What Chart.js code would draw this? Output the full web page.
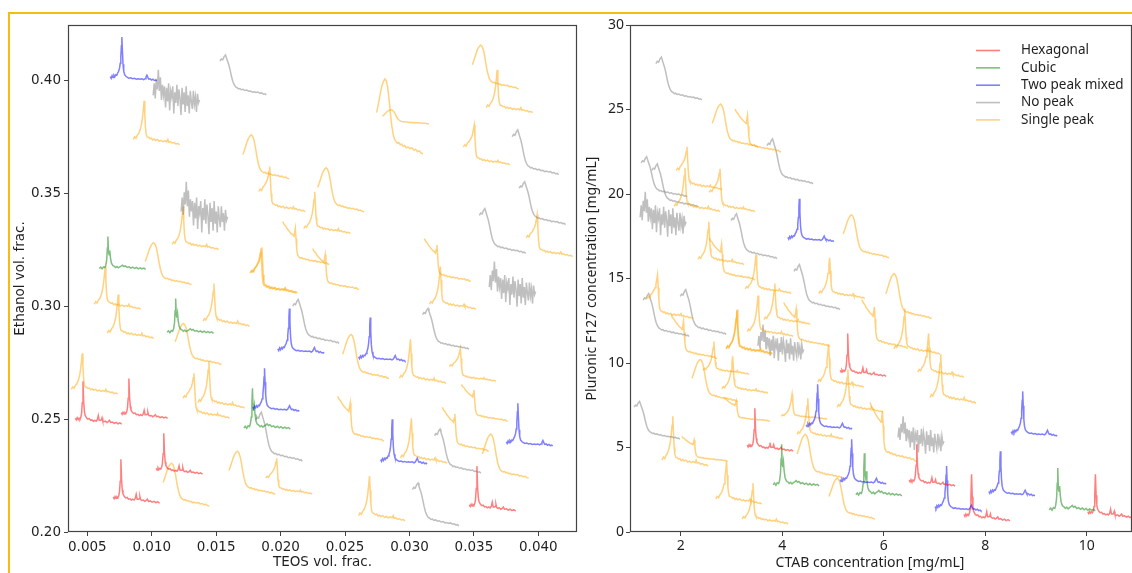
<!DOCTYPE html>
<html>
<head>
<meta charset="utf-8">
<script src="https://cdn.jsdelivr.net/npm/chart.js@4.4.1/dist/chart.umd.min.js"></script>
<style>
  html, body { margin: 0; padding: 0; background: #fff; width: 1132px; height: 573px; overflow: hidden; }
  #frame { position: absolute; left: 8px; top: 12px; width: 1200px; height: 700px;
           border-top: 2px solid #f8bb10; border-left: 2px solid #f8bb10; }
  #teosWrap { position: absolute; left: 0; top: 0; width: 590px; height: 573px; }
  #ctabWrap { position: absolute; left: 578px; top: 0; width: 554px; height: 573px; }
</style>
</head>
<body>
<div id="frame"></div>
<div id="teosWrap"><canvas id="teosChart" width="590" height="573"></canvas></div>
<div id="ctabWrap"><canvas id="ctabChart" width="554" height="573"></canvas></div>
<script>
// ---- classes ----
const classNames = ['Hexagonal', 'Cubic', 'Two peak mixed', 'No peak', 'Single peak'];
const classColors = ['rgba(255,0,0,0.5)', 'rgba(0,128,0,0.5)', 'rgba(0,0,255,0.5)',
                     'rgba(128,128,128,0.5)', 'rgba(255,165,0,0.5)'];
const shapeClass = { hex: 0, cub: 1, two: 2, dec: 3, noi: 3, shp: 4, shpH: 4, brd: 4, sdec: 4 };

// ---- tick labels ----
const teosTicks = [0.005, 0.010, 0.015, 0.020, 0.025, 0.030, 0.035, 0.040];
const ethanolTicks = [0.20, 0.25, 0.30, 0.35, 0.40];
const ctabTicks = [2, 4, 6, 8, 10];
const f127Ticks = [0, 5, 10, 15, 20, 25, 30];

// ---- panel 1: TEOS / ethanol samples (start of pattern, baseline level, pattern maximum) ----
const teosFrac = [
  0.00678, 0.01011, 0.01529, 0.00856, 0.01707, 0.01831, 0.02180, 0.02288, 0.01228, 0.01158,
  0.00593, 0.00949, 0.01762, 0.01770, 0.00554, 0.00655, 0.01119, 0.01398, 0.01978, 0.02094,
  0.01181, 0.01243, 0.01359, 0.00376, 0.00407, 0.00763, 0.01785, 0.01715, 0.01808, 0.01034,
  0.01088, 0.00701, 0.01599, 0.01885, 0.02745, 0.02791, 0.03488, 0.03596, 0.03418, 0.03797,
  0.03851, 0.03906, 0.03542, 0.03619, 0.03116, 0.03155, 0.02249, 0.03101, 0.02605, 0.02481,
  0.02923, 0.03310, 0.03403, 0.03751, 0.02443, 0.02776, 0.02930, 0.03194, 0.03255, 0.03565,
  0.03464, 0.02605, 0.03023, 0.02017];
const ethanolBase = [
  0.4000, 0.3916, 0.3938, 0.3717, 0.3566, 0.3420, 0.3323, 0.3420, 0.3398, 0.3252,
  0.3164, 0.3097, 0.3058, 0.3060, 0.2987, 0.2858, 0.2881, 0.2912, 0.2792, 0.2836,
  0.2743, 0.2504, 0.2549, 0.2611, 0.2478, 0.2504, 0.2535, 0.2456, 0.2314, 0.2257,
  0.2115, 0.2128, 0.2168, 0.2168, 0.3677, 0.3810, 0.3965, 0.3859, 0.3628, 0.3584,
  0.3363, 0.3221, 0.3235, 0.3066, 0.3111, 0.2987, 0.3075, 0.2810, 0.2757, 0.2681,
  0.2659, 0.2668, 0.2491, 0.2381, 0.2403, 0.2301, 0.2305, 0.2261, 0.2358, 0.2239,
  0.2093, 0.2049, 0.2027, 0.3186];
const ethanolTop = [
  0.4195, 0.4049, 0.4115, 0.3912, 0.3761, 0.3620, 0.3509, 0.3615, 0.3553, 0.3443,
  0.3310, 0.3283, 0.3257, 0.3262, 0.3177, 0.3053, 0.3035, 0.3102, 0.2991, 0.3031,
  0.2925, 0.2704, 0.2757, 0.2792, 0.2668, 0.2681, 0.2726, 0.2637, 0.2531, 0.2438,
  0.2305, 0.2323, 0.2358, 0.2327, 0.4009, 0.3872, 0.4159, 0.4049, 0.3805, 0.3783,
  0.3553, 0.3407, 0.3434, 0.3199, 0.3301, 0.3177, 0.3257, 0.2991, 0.2951, 0.2876,
  0.2854, 0.2814, 0.2655, 0.2571, 0.2602, 0.2500, 0.2504, 0.2456, 0.2553, 0.2434,
  0.2292, 0.2248, 0.2217, 0.3376];
const teosShape = [
  'two', 'noi', 'dec', 'shp', 'brd', 'shpH', 'shp', 'brd', 'noi', 'shp',
  'cub', 'brd', 'shpH', 'shpH', 'shp', 'shp', 'cub', 'shp', 'two', 'dec',
  'brd', 'shpH', 'shp', 'shp', 'hex', 'hex', 'two', 'cub', 'dec', 'hex',
  'brd', 'hex', 'brd', 'shpH', 'brd', 'brd', 'brd', 'shp', 'shpH', 'dec',
  'dec', 'shpH', 'dec', 'noi', 'sdec', 'shp', 'sdec', 'dec', 'two', 'brd',
  'shp', 'shpH', 'sdec', 'two', 'sdec', 'two', 'shp', 'dec', 'sdec', 'brd',
  'hex', 'shp', 'dec', 'sdec'];

// ---- panel 2: CTAB / Pluronic F127 samples ----
const ctabConc = [
  1.51, 2.62, 3.07, 3.70, 1.91, 1.87, 2.56, 1.22, 1.43, 1.20,
  4.11, 5.20, 2.99, 2.34, 2.56, 3.27, 4.23, 4.72, 6.04, 6.20,
  5.57, 6.67, 6.91, 5.14, 5.08, 4.70, 4.03, 3.31, 3.64, 2.89,
  2.90, 3.52, 1.33, 1.26, 1.99, 1.81, 2.22, 2.44, 2.81, 2.85,
  3.31, 4.47, 3.98, 4.29, 4.29, 1.08, 1.63, 2.02, 2.69, 3.21,
  3.82, 5.14, 5.45, 4.92, 6.50, 7.01, 7.58, 8.07, 8.51, 9.26,
  10.02, 6.28, 5.73];
const f127Base = [
  25.56, 22.79, 22.49, 20.60, 20.25, 18.95, 18.95, 19.83, 19.24, 18.36,
  17.18, 16.23, 16.17, 15.82, 14.93, 14.11, 13.16, 13.81, 12.63, 10.51,
  10.86, 9.15, 7.61, 9.21, 7.08, 8.56, 10.98, 11.57, 12.28, 10.51,
  10.55, 10.80, 12.63, 11.57, 11.69, 10.27, 7.73, 9.33, 8.21, 6.55,
  4.78, 6.08, 6.67, 5.49, 3.19, 5.49, 3.90, 4.19, 1.65, 0.47,
  2.72, 2.83, 2.13, 0.77, 2.72, 1.24, 0.65, 2.13, 5.67, 1.24,
  0.83, 5.37, 4.19];
const f127Top = [
  28.10, 25.32, 25.03, 23.26, 22.79, 21.55, 21.49, 22.20, 21.78, 20.13,
  19.72, 18.77, 18.83, 18.36, 17.41, 16.41, 15.82, 16.23, 15.29, 13.22,
  13.75, 11.75, 10.51, 11.75, 9.62, 11.10, 13.58, 13.99, 14.70, 13.10,
  13.16, 12.28, 15.23, 14.11, 14.34, 12.87, 10.21, 11.27, 10.39, 7.97,
  7.32, 8.74, 8.15, 7.91, 5.78, 7.73, 6.85, 5.67, 4.19, 2.89,
  5.19, 5.49, 4.66, 3.19, 5.19, 3.90, 3.42, 4.78, 8.32, 3.78,
  3.42, 6.85, 7.67];
const ctabShape = [
  'dec', 'brd', 'sdec', 'dec', 'shpH', 'shp', 'shpH', 'dec', 'dec', 'noi',
  'two', 'brd', 'dec', 'shp', 'sdec', 'shp', 'dec', 'shp', 'brd', 'shp',
  'sdec', 'shp', 'shp', 'hex', 'shp', 'shp', 'sdec', 'shp', 'shp', 'shp',
  'shp', 'noi', 'shpH', 'dec', 'dec', 'sdec', 'brd', 'shp', 'shp', 'sdec',
  'hex', 'two', 'shp', 'shp', 'brd', 'dec', 'shp', 'sdec', 'shp', 'shp',
  'cub', 'two', 'cub', 'brd', 'hex', 'two', 'hex', 'two', 'two', 'cub',
  'hex', 'noi', 'sdec'];

// ---- scattering-pattern outlines: [position along pattern 0..1, level 0 (baseline) .. 1 (maximum)] ----
const hexProfile = [[0,.14],[.02,.1],[.04,.15],[.06,.11],[.08,.14],[.1,.12],[.12,.17],[.135,.26],[.15,.5],
  [.165,1],[.18,.52],[.195,.3],[.21,.21],[.24,.15],[.27,.12],[.3,.13],[.33,.09],[.36,.1],[.39,.07],[.42,.09],
  [.45,.07],[.475,.11],[.495,.2],[.515,.09],[.54,.09],[.56,.1],[.575,.15],[.59,.08],[.62,.06],[.65,.07],[.68,.04],
  [.71,.06],[.735,.09],[.76,.04],[.8,.05],[.84,.02],[.88,.04],[.92,.01],[.96,.03],[1,0]];
const cubProfile = [[0,.03],[.03,.07],[.06,.02],[.09,.08],[.12,.06],[.14,.13],[.16,.3],[.173,.65],[.185,1],
  [.197,.55],[.21,.45],[.225,.58],[.24,.36],[.26,.2],[.29,.12],[.32,.1],[.35,.06],[.38,.09],[.41,.05],[.44,.08],
  [.47,.1],[.5,.13],[.53,.09],[.56,.11],[.6,.06],[.64,.08],[.68,.04],[.72,.07],[.76,.03],[.8,.06],[.84,.02],
  [.88,.05],[.92,.02],[.96,.04],[1,0]];
const twoProfile = [[0,.1],[.02,.06],[.04,.12],[.06,.08],[.08,.13],[.1,.1],[.12,.14],[.14,.13],[.16,.18],
  [.18,.22],[.2,.29],[.215,.4],[.228,.56],[.24,.8],[.25,1],[.262,.68],[.275,.38],[.29,.22],[.31,.14],[.34,.1],
  [.37,.08],[.4,.06],[.44,.07],[.48,.05],[.52,.06],[.56,.04],[.6,.05],[.64,.04],[.68,.05],[.72,.03],[.75,.05],
  [.77,.09],[.79,.13],[.81,.08],[.83,.04],[.86,.05],[.89,.02],[.92,.04],[.95,.01],[.98,.02],[1,0]];
const shpProfile = [[0,.12],[.03,.18],[.06,.15],[.09,.22],[.12,.26],[.15,.34],[.18,.47],[.2,.62],[.22,.82],
  [.235,1],[.25,.68],[.265,.38],[.28,.24],[.3,.18],[.33,.17],[.36,.14],[.39,.15],[.42,.11],[.45,.13],[.48,.1],
  [.52,.12],[.56,.08],[.6,.1],[.64,.07],[.68,.09],[.72,.07],[.745,.12],[.765,.06],[.8,.07],[.84,.04],[.88,.05],
  [.92,.02],[.96,.03],[1,0]];
const shpHighProfile = [[0,.45],[.03,.5],[.06,.47],[.09,.55],[.12,.58],[.15,.64],[.18,.7],[.2,.78],[.22,.9],
  [.235,1],[.25,.7],[.265,.4],[.28,.24],[.3,.18],[.33,.17],[.36,.14],[.39,.15],[.42,.11],[.45,.13],[.48,.1],
  [.52,.12],[.56,.08],[.6,.1],[.64,.07],[.68,.09],[.72,.07],[.745,.11],[.765,.06],[.8,.07],[.84,.04],[.88,.05],
  [.92,.02],[.96,.03],[1,0]];
const brdProfile = [[0,.55],[.03,.64],[.06,.74],[.09,.84],[.12,.92],[.15,.97],[.18,1],[.21,.97],[.24,.88],
  [.27,.72],[.3,.52],[.33,.36],[.36,.25],[.39,.19],[.42,.16],[.45,.14],[.48,.15],[.51,.12],[.54,.13],[.57,.1],
  [.6,.11],[.64,.08],[.68,.09],[.72,.07],[.76,.08],[.8,.05],[.84,.06],[.88,.03],[.92,.04],[.96,.01],[1,0]];
const decProfile = [[0,.85],[.03,.9],[.06,.88],[.09,.96],[.12,1],[.14,.93],[.16,.86],[.19,.76],[.22,.62],
  [.25,.46],[.28,.33],[.31,.25],[.34,.2],[.37,.18],[.4,.15],[.43,.16],[.46,.13],[.5,.14],[.54,.11],[.58,.12],
  [.62,.09],[.66,.1],[.7,.07],[.74,.08],[.78,.06],[.82,.07],[.86,.04],[.9,.05],[.94,.02],[.97,.03],[1,0]];
const sdecProfile = [[0,1],[.03,.93],[.06,.9],[.09,.84],[.12,.8],[.15,.76],[.18,.72],[.21,.7],[.24,.66],
  [.255,.75],[.27,.85],[.285,.6],[.3,.35],[.32,.22],[.35,.17],[.38,.15],[.41,.16],[.44,.13],[.47,.14],[.5,.11],
  [.54,.12],[.58,.09],[.62,.1],[.66,.08],[.7,.09],[.74,.06],[.78,.07],[.82,.05],[.86,.06],[.9,.03],[.94,.04],
  [.97,.01],[1,0]];
const noiseLevels = [.15,.55,.05,.7,.35,1,.3,.75,0,.5, .15,.45,-.25,.4,-.05,.55,-.35,.3,.1,.45,
  -.45,.25,-.1,.5,-.2,.35,.05,-.5,.4,-.15, .25,-.4,.45,-.2,.15,-.45,.3,-.05,-.3,.3, -.15,.1,-.4,.2,-.1,0];
const noiProfile = noiseLevels.map((v, i) => [i / (noiseLevels.length - 1), v]);

const profiles = { hex: hexProfile, cub: cubProfile, two: twoProfile, shp: shpProfile, shpH: shpHighProfile,
                   brd: brdProfile, dec: decProfile, sdec: sdecProfile, noi: noiProfile };

// one line dataset per sample, placed at its own composition
function sampleDatasets(xs, base, top, shapes, span) {
  return xs.map((x0, i) => {
    const cls = shapeClass[shapes[i]];
    return {
      label: classNames[cls],
      data: profiles[shapes[i]].map(([u, v]) => ({ x: x0 + u * span, y: base[i] + v * (top[i] - base[i]) })),
      borderColor: classColors[cls],
      borderWidth: 1.5,
      pointRadius: 0,
      showLine: true,
      fill: false,
      tension: 0
    };
  });
}

const frameBox = {
  id: 'frameBox',
  afterDatasetsDraw(chart) {
    const { ctx, chartArea: a } = chart;
    ctx.save();
    ctx.strokeStyle = '#444';
    ctx.lineWidth = 1.2;
    ctx.strokeRect(a.left + 0.5, a.top + 0.5, a.right - a.left - 1, a.bottom - a.top - 1);
    ctx.restore();
  }
};

const classLegend = {
  id: 'classLegend',
  afterDraw(chart) {
    const { ctx, chartArea: a } = chart;
    ctx.save();
    ctx.font = '13.5px "Noto Sans"';
    ctx.textBaseline = 'middle';
    ctx.textAlign = 'left';
    classNames.forEach((name, i) => {
      const y = a.top + 25.5 + i * 17.35;
      ctx.strokeStyle = classColors[i];
      ctx.lineWidth = 1.6;
      ctx.beginPath();
      ctx.moveTo(a.left + 346, y);
      ctx.lineTo(a.left + 370, y);
      ctx.stroke();
      ctx.fillStyle = '#1f1f1f';
      ctx.fillText(name, a.left + 391, y);
    });
    ctx.restore();
  }
};

// CTAB axis name, set slightly left of the visible plot centre
const ctabAxisName = {
  id: 'ctabAxisName',
  afterDraw(chart) {
    const { ctx } = chart;
    ctx.save();
    ctx.font = '14px "Noto Sans"';
    ctx.fillStyle = '#1f1f1f';
    ctx.textAlign = 'center';
    ctx.textBaseline = 'middle';
    ctx.fillText('CTAB concentration [mg/mL]', 292, 563);
    ctx.restore();
  }
};

const textColor = '#1f1f1f';
const axisGrid = { drawOnChartArea: false, tickLength: 4, color: '#444', tickWidth: 1 };

function baseOptions(padding) {
  return {
    responsive: false,
    animation: false,
    devicePixelRatio: 1,
    layout: { padding },
    plugins: { legend: { display: false }, tooltip: { enabled: false } },
    events: []
  };
}

// ---- TEOS / ethanol panel ----
const teosFont = { family: 'DejaVu Sans', size: 13.5 };
new Chart(document.getElementById('teosChart'), {
  type: 'scatter',
  data: { datasets: sampleDatasets(teosFrac, ethanolBase, ethanolTop, teosShape, 0.0036) },
  options: Object.assign(baseOptions({ top: 25, right: 13, left: 0, bottom: 0 }), {
    scales: {
      x: {
        type: 'linear', min: 0.0035, max: 0.0430,
        afterBuildTicks: s => { s.ticks = teosTicks.map(v => ({ value: v })); },
        afterFit: s => { s.height = 41; },
        ticks: { font: teosFont, color: textColor, padding: 3, maxRotation: 0, autoSkip: false,
                 callback: v => v.toFixed(3) },
        grid: axisGrid, border: { display: false },
        title: { display: true, text: 'TEOS vol. frac.', font: teosFont, color: textColor,
                 padding: { top: 0, bottom: 2 } }
      },
      y: {
        type: 'linear', min: 0.20, max: 0.4248,
        afterBuildTicks: s => { s.ticks = ethanolTicks.map(v => ({ value: v })); },
        afterFit: s => { s.width = 68; },
        ticks: { font: teosFont, color: textColor, padding: 3, autoSkip: false,
                 callback: v => v.toFixed(2) },
        grid: axisGrid, border: { display: false },
        title: { display: true, text: 'Ethanol vol. frac.', font: teosFont, color: textColor,
                 padding: { top: 12, bottom: 0 } }
      }
    }
  }),
  plugins: [frameBox]
});

// ---- CTAB / F127 panel ----
const ctabFont = { family: 'Noto Sans', size: 14 };
new Chart(document.getElementById('ctabChart'), {
  type: 'scatter',
  data: { datasets: sampleDatasets(ctabConc, f127Base, f127Top, ctabShape, 0.905) },
  options: Object.assign(baseOptions({ top: 25, right: 0, left: 0, bottom: 0 }), {
    scales: {
      x: {
        type: 'linear', min: 1, max: 10.89,
        afterBuildTicks: s => { s.ticks = ctabTicks.map(v => ({ value: v })); },
        afterFit: s => { s.height = 41; },
        ticks: { font: ctabFont, color: textColor, padding: 2, maxRotation: 0, autoSkip: false },
        grid: axisGrid, border: { display: false },
        title: { display: false }
      },
      y: {
        type: 'linear', min: 0, max: 30,
        afterBuildTicks: s => { s.ticks = f127Ticks.map(v => ({ value: v })); },
        afterFit: s => { s.width = 52; },
        ticks: { font: ctabFont, color: textColor, padding: 2, autoSkip: false },
        grid: axisGrid, border: { display: false },
        title: { display: true, text: 'Pluronic F127 concentration [mg/mL]', font: ctabFont, color: textColor,
                 padding: { top: 6, bottom: 0 } }
      }
    }
  }),
  plugins: [frameBox, classLegend, ctabAxisName]
});
</script>
</body>
</html>
